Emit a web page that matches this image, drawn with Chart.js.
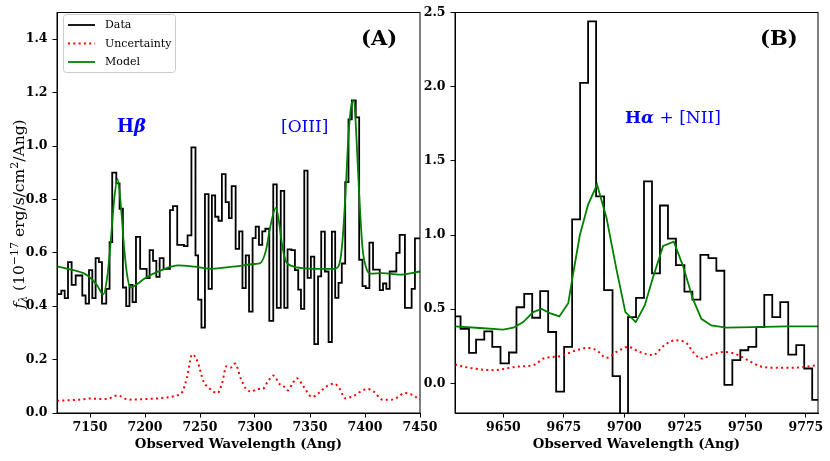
<!DOCTYPE html>
<html>
<head>
<meta charset="utf-8">
<title>Spectrum fit</title>
<script src="https://cdn.jsdelivr.net/npm/chart.js@4.4.1/dist/chart.umd.min.js"></script>
<style>
  html, body { margin: 0; padding: 0; background: #fff; }
  #wrap { position: relative; width: 830px; height: 461px; overflow: hidden; }
  #chart-a { position: absolute; left: 0; top: 0; }
  #chart-b { position: absolute; left: 420px; top: 0; }
</style>
</head>
<body>
<div id="wrap">
  <canvas id="chart-a" width="450" height="461"></canvas>
  <canvas id="chart-b" width="410" height="461"></canvas>
</div>
<script>
// ---- panel A : Hbeta + [OIII] ----
// data histogram: left edge of each step (Ang) and flux
const waveEdgesA = [
  7118.0, 7123.9, 7127.0, 7130.0, 7133.3, 7137.0, 7143.0, 7146.0, 7149.1, 7152.1,
  7155.1, 7158.1, 7160.9, 7164.8, 7167.8, 7170.2, 7173.9, 7176.9, 7179.9, 7182.9,
  7185.9, 7188.7, 7191.8, 7195.6, 7201.5, 7204.2, 7207.3, 7210.3, 7213.3, 7216.9,
  7222.7, 7225.4, 7229.3, 7235.4, 7238.7, 7242.2, 7245.9, 7248.3, 7251.3, 7254.5,
  7257.8, 7260.8, 7263.8, 7266.8, 7269.9, 7273.3, 7276.3, 7278.8, 7282.4, 7285.6,
  7288.6, 7291.6, 7294.6, 7297.8, 7300.6, 7303.6, 7306.6, 7309.4, 7313.0, 7316.6,
  7319.8, 7323.4, 7326.6, 7329.6, 7333.0, 7336.3, 7339.3, 7341.8, 7344.8, 7347.8,
  7350.8, 7353.9, 7357.3, 7360.2, 7363.5, 7366.9, 7369.9, 7372.9, 7375.9, 7378.9,
  7382.0, 7385.0, 7388.0, 7391.6, 7394.7, 7397.7, 7400.7, 7404.0, 7407.3, 7413.4,
  7416.4, 7419.4, 7422.4, 7428.5, 7431.5, 7436.3, 7442.4, 7445.4, 7452.0
];
const fluxA = [
  0.445, 0.458, 0.43, 0.565, 0.48, 0.515, 0.44, 0.41, 0.535, 0.43,
  0.58, 0.565, 0.41, 0.465, 0.64, 0.90, 0.86, 0.765, 0.47, 0.40,
  0.48, 0.415, 0.66, 0.54, 0.505, 0.61, 0.57, 0.51, 0.58, 0.54,
  0.76, 0.775, 0.63, 0.625, 0.665, 0.995, 0.59, 0.425, 0.32, 0.82,
  0.465, 0.815, 0.735, 0.72, 0.895, 0.79, 0.73, 0.85, 0.615, 0.68,
  0.468, 0.59, 0.38, 0.655, 0.698, 0.63, 0.68, 0.69, 0.345, 0.856,
  0.394, 0.832, 0.394, 0.613, 0.61, 0.535, 0.462, 0.39, 0.908, 0.506,
  0.586, 0.258, 0.512, 0.679, 0.53, 0.266, 0.679, 0.431, 0.487, 0.56,
  0.865, 1.10, 1.171, 1.107, 0.574, 0.475, 0.468, 0.638, 0.537, 0.46,
  0.485, 0.465, 0.53, 0.60, 0.667, 0.394, 0.465, 0.654, 0.654
];
const modelWaveA = [
  7120, 7135, 7145, 7152, 7157, 7162, 7166, 7169, 7172, 7175,
  7178, 7181, 7184, 7187, 7192, 7200, 7215, 7230, 7245, 7260,
  7280, 7300, 7305, 7310, 7314, 7319, 7322, 7325, 7328, 7334,
  7346, 7360, 7372, 7376, 7379, 7382, 7385, 7388, 7390, 7392,
  7394.7, 7397.7, 7401, 7405, 7416, 7431, 7450
];
const modelA = [
  0.549, 0.535, 0.522, 0.50, 0.475, 0.444, 0.52, 0.65, 0.80, 0.877,
  0.78, 0.62, 0.51, 0.47, 0.48, 0.505, 0.535, 0.553, 0.548, 0.54,
  0.548, 0.558, 0.562, 0.61, 0.70, 0.768, 0.71, 0.62, 0.57, 0.55,
  0.542, 0.54, 0.54, 0.55, 0.62, 0.80, 1.04, 1.16, 1.17, 1.05,
  0.82, 0.62, 0.545, 0.522, 0.524, 0.518, 0.53
];
const uncWaveA = [
  7120, 7140, 7150, 7165, 7175, 7185, 7200, 7215, 7228, 7234,
  7238, 7243, 7248, 7253, 7259, 7266, 7270, 7274, 7278, 7282,
  7287, 7292, 7297, 7302, 7307, 7312, 7317, 7322, 7326, 7330,
  7334, 7338, 7344, 7352, 7358, 7365, 7372, 7377, 7382, 7390,
  7396, 7402, 7408, 7416, 7424, 7430, 7436, 7442, 7450
];
const uncA = [
  0.046, 0.05, 0.054, 0.052, 0.066, 0.05, 0.052, 0.056, 0.065, 0.08,
  0.13, 0.22, 0.19, 0.12, 0.09, 0.075, 0.11, 0.175, 0.17, 0.185,
  0.13, 0.09, 0.08, 0.09, 0.09, 0.12, 0.14, 0.11, 0.10, 0.085,
  0.11, 0.13, 0.10, 0.06, 0.075, 0.10, 0.11, 0.09, 0.055, 0.065,
  0.08, 0.09, 0.08, 0.05, 0.05, 0.06, 0.075, 0.07, 0.05
];

// ---- panel B : Halpha + [NII] ----
const waveEdgesB = [
  9628.9, 9632.3, 9635.8, 9638.7, 9642.1, 9645.4, 9648.8, 9652.3, 9655.4, 9658.6,
  9661.9, 9665.2, 9668.5, 9671.8, 9675.1, 9678.4, 9681.7, 9685.0, 9688.3, 9691.6,
  9695.1, 9698.2, 9701.5, 9704.8, 9708.1, 9711.4, 9714.7, 9718.0, 9721.3, 9724.8,
  9728.1, 9731.4, 9734.7, 9738.0, 9741.3, 9744.6, 9747.9, 9751.2, 9754.5, 9757.8,
  9761.1, 9764.4, 9767.7, 9771.0, 9774.3, 9777.6, 9781.0
];
const fluxB = [
  0.451, 0.368, 0.205, 0.295, 0.35, 0.246, 0.134, 0.208, 0.513, 0.603,
  0.442, 0.621, 0.346, -0.056, 0.246, 1.105, 2.025, 2.44, 1.261, 0.629,
  0.049, -0.3, 0.446, 0.576, 1.362, 0.741, 1.199, 0.975, 0.797, 0.618,
  0.565, 0.866, 0.844, 0.759, -0.011, 0.156, 0.223, 0.246, 0.379, 0.596,
  0.446, 0.547, 0.194, 0.257, 0.10, -0.112, -0.112
];
const modelWaveB = [
  9630, 9640.3, 9649.9, 9654.1, 9658.2, 9662.3, 9665.8, 9669.2, 9673.1, 9676.8,
  9678.8, 9681.6, 9685.0, 9688.7, 9692.6, 9696.7, 9700.4, 9704.7, 9708.4, 9711.8,
  9716.0, 9720.4, 9724.2, 9728.3, 9731.8, 9735.9, 9742.1, 9753.1, 9766.9, 9780
];
const modelB = [
  0.384, 0.373, 0.362, 0.375, 0.413, 0.48, 0.502, 0.473, 0.451, 0.54,
  0.737, 1.0, 1.205, 1.339, 1.116, 0.77, 0.48, 0.413, 0.525, 0.714,
  0.926, 0.955, 0.792, 0.569, 0.435, 0.39, 0.375, 0.379, 0.384, 0.384
];
const uncWaveB = [
  9630, 9637.6, 9645.8, 9655.4, 9663, 9666.5, 9673.3, 9680.2, 9685, 9688.5,
  9692.6, 9696.7, 9701.5, 9706.3, 9711.8, 9716, 9720.8, 9725.6, 9728.3, 9731.8,
  9736.6, 9741.4, 9746.2, 9751, 9755.9, 9761.4, 9769.6, 9780
];
const uncB = [
  0.127, 0.10, 0.089, 0.112, 0.127, 0.167, 0.183, 0.223, 0.239, 0.223,
  0.172, 0.212, 0.246, 0.212, 0.19, 0.25, 0.29, 0.272, 0.212, 0.167,
  0.196, 0.212, 0.196, 0.156, 0.116, 0.105, 0.105, 0.123
];

// tick positions
const xTicksA = [7150, 7200, 7250, 7300, 7350, 7400, 7450];
const yTicksA = [0, 0.2, 0.4, 0.6, 0.8, 1.0, 1.2, 1.4];
const xTicksB = [9650, 9675, 9700, 9725, 9750, 9775];
const yTicksB = [0, 0.5, 1.0, 1.5, 2.0, 2.5];

const legendLabels = ["Data", "Uncertainty", "Model"];
const xTitle = "Observed Wavelength (Ang)";

const SERIF = "'DejaVu Serif', serif";
const BLUE = "#0000ff";

// text runs: [text, font]
const labelsA = [
  { x: 361, y: 45, color: "#000", runs: [["(A)", "bold 21px " + SERIF]] },
  { x: 117, y: 132, color: BLUE, runs: [["H", "bold 18px " + SERIF], ["β", "italic bold 18px " + SERIF]] },
  { x: 281, y: 132, color: BLUE, runs: [["[OIII]", "17px " + SERIF]] },
];
const labelsB = [
  { x: 340, y: 45, color: "#000", runs: [["(B)", "bold 21px " + SERIF]] },
  { x: 205, y: 123, color: BLUE, runs: [["H", "bold 17px " + SERIF], ["α", "italic bold 17px " + SERIF], [" + [NII]", "17px " + SERIF]] },
];

toPoints = (xs, ys) => xs.map((x, i) => ({ x: x, y: ys[i] }));

buildDatasets = (edges, flux, uncWave, unc, modelWave, model, smoothModel) => [
  {
    label: legendLabels[0],
    data: toPoints(edges, flux),
    borderColor: "#000000",
    borderWidth: 1.8,
    stepped: "before",
    pointRadius: 0,
    order: 2,
  },
  {
    label: legendLabels[1],
    data: toPoints(uncWave, unc),
    borderColor: "#ff0000",
    borderWidth: 2,
    borderDash: [2, 3.3],
    cubicInterpolationMode: "monotone",
    pointRadius: 0,
    order: 1,
  },
  {
    label: legendLabels[2],
    data: toPoints(modelWave, model),
    borderColor: "#008000",
    borderWidth: 1.8,
    cubicInterpolationMode: smoothModel ? "monotone" : "default",
    tension: 0,
    pointRadius: 0,
    order: 0,
  },
];

tickGrid = () => ({
  display: true,
  drawOnChartArea: false,
  drawTicks: true,
  tickLength: 4.5,
  tickColor: "#000",
  tickWidth: 1,
});

makeScales = (xr, yr, yAxisWidth) => ({
  x: {
    type: "linear",
    min: xr.min,
    max: xr.max,
    afterBuildTicks: (s) => { s.ticks = xr.ticks.map((v) => ({ value: v })); },
    ticks: {
      autoSkip: false,
      maxRotation: 0,
      color: "#000",
      padding: 2.5,
      font: { family: SERIF, size: 12.5, weight: "bold" },
      callback: (v) => Number(v).toFixed(0),
    },
    grid: tickGrid(),
    border: { display: true, color: "#000", width: 1 },
    title: {
      display: true,
      text: xTitle,
      color: "#000",
      font: { family: SERIF, size: 13.3, weight: "bold" },
      padding: { top: 0, bottom: 8 },
    },
    afterFit: (s) => { s.height = 48; },
  },
  y: {
    type: "linear",
    min: yr.min,
    max: yr.max,
    afterBuildTicks: (s) => { s.ticks = yr.ticks.map((v) => ({ value: v })); },
    ticks: {
      autoSkip: false,
      color: "#000",
      padding: 5,
      font: { family: SERIF, size: 12.5, weight: "bold" },
      callback: (v) => Number(v).toFixed(1),
    },
    grid: tickGrid(),
    border: { display: true, color: "#000", width: 1 },
    afterFit: (s) => { s.width = yAxisWidth; },
  },
});

// full box around the axes (matplotlib spines)
const framePlugin = {
  id: "frame",
  afterDatasetsDraw(chart) {
    const a = chart.chartArea;
    const ctx = chart.ctx;
    ctx.save();
    ctx.strokeStyle = "#000";
    ctx.lineWidth = 1;
    ctx.strokeRect(a.left, a.top, a.right - a.left, a.bottom - a.top);
    ctx.restore();
  },
};

const textPlugin = {
  id: "textLabels",
  afterDraw(chart, args, opts) {
    const ctx = chart.ctx;
    ctx.save();
    ctx.textBaseline = "alphabetic";
    ctx.textAlign = "left";
    (opts.items || []).forEach((item) => {
      let x = item.x;
      ctx.fillStyle = item.color;
      item.runs.forEach(([t, f]) => {
        ctx.font = f;
        ctx.fillText(t, x, item.y);
        x += ctx.measureText(t).width;
      });
    });
    ctx.restore();
  },
};

// y label with subscript / superscripts
const yTitlePlugin = {
  id: "yTitle",
  afterDraw(chart) {
    const ctx = chart.ctx;
    const big = "15.5px " + SERIF;
    const small = "11px " + SERIF;
    const parts = [
      ["f", "italic " + big, 0],
      ["λ", "italic " + small, 3],
      [" (10", big, 0],
      ["−17", small, -6.5],
      [" erg/s/cm", big, 0],
      ["2", small, -6.5],
      ["/Ang)", big, 0],
    ];
    ctx.save();
    let total = 0;
    parts.forEach(([t, f]) => { ctx.font = f; total += ctx.measureText(t).width; });
    ctx.translate(24, 214);
    ctx.rotate(-Math.PI / 2);
    ctx.fillStyle = "#000";
    ctx.textBaseline = "alphabetic";
    let x = -total / 2;
    parts.forEach(([t, f, dy]) => {
      ctx.font = f;
      ctx.fillText(t, x, dy);
      x += ctx.measureText(t).width;
    });
    ctx.restore();
  },
};

const legendPlugin = {
  id: "boxLegend",
  afterDraw(chart) {
    const ctx = chart.ctx;
    const bx = 63.5, by = 14.5, bw = 112, bh = 58;
    ctx.save();
    ctx.beginPath();
    ctx.roundRect(bx, by, bw, bh, 3);
    ctx.fillStyle = "rgba(255,255,255,0.8)";
    ctx.fill();
    ctx.strokeStyle = "#cccccc";
    ctx.lineWidth = 1;
    ctx.stroke();
    const rows = [25, 43.5, 62];
    chart.data.datasets.forEach((ds, i) => {
      ctx.beginPath();
      ctx.setLineDash(ds.borderDash || []);
      ctx.strokeStyle = ds.borderColor;
      ctx.lineWidth = ds.borderWidth;
      ctx.moveTo(68, rows[i]);
      ctx.lineTo(95, rows[i]);
      ctx.stroke();
      ctx.setLineDash([]);
      ctx.fillStyle = "#000";
      ctx.font = "11px " + SERIF;
      ctx.textBaseline = "middle";
      ctx.fillText(ds.label, 105, rows[i] + 0.5);
    });
    ctx.restore();
  },
};

const chartA = new Chart(document.getElementById("chart-a").getContext("2d"), {
  type: "line",
  data: { datasets: buildDatasets(waveEdgesA, fluxA, uncWaveA, uncA, modelWaveA, modelA, true) },
  options: {
    responsive: false,
    animation: false,
    events: [],
    layout: { padding: { left: 0, right: 30, top: 9, bottom: 0 } },
    scales: makeScales({ min: 7120, max: 7450, ticks: xTicksA }, { min: 0, max: 1.5, ticks: yTicksA }, 57),
    plugins: {
      legend: { display: false },
      tooltip: { enabled: false },
      textLabels: { items: labelsA },
    },
  },
  plugins: [framePlugin, textPlugin, yTitlePlugin, legendPlugin],
});

const chartB = new Chart(document.getElementById("chart-b").getContext("2d"), {
  type: "line",
  data: { datasets: buildDatasets(waveEdgesB, fluxB, uncWaveB, uncB, modelWaveB, modelB, false) },
  options: {
    responsive: false,
    animation: false,
    events: [],
    layout: { padding: { left: 0, right: 12, top: 9, bottom: 0 } },
    scales: makeScales({ min: 9630, max: 9780, ticks: xTicksB }, { min: -0.2, max: 2.5, ticks: yTicksB }, 35),
    plugins: {
      legend: { display: false },
      tooltip: { enabled: false },
      textLabels: { items: labelsB },
    },
  },
  plugins: [framePlugin, textPlugin],
});
</script>
</body>
</html>
